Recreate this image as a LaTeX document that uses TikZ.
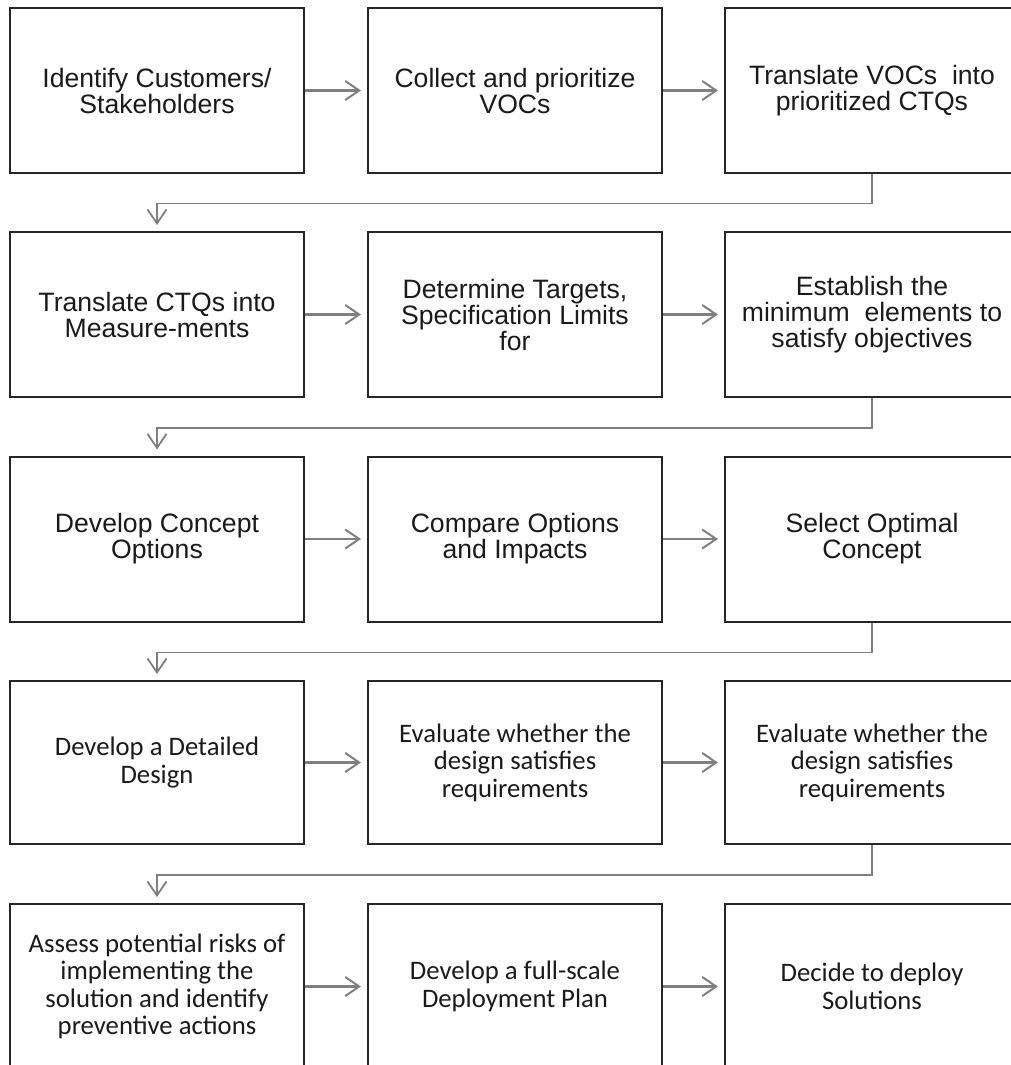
\documentclass[tikz,border=0pt]{standalone}
\usepackage{fontspec}
\newfontfamily\arialf{Liberation Sans}
\newfontfamily\calf{Carlito}
\usetikzlibrary{arrows.meta}
\definecolor{boxline}{HTML}{262626}
\definecolor{connc}{HTML}{7F7F7F}
\definecolor{txt}{HTML}{1A1A1A}
\tikzset{
  box/.style={draw=boxline, line width=2pt, rectangle, minimum width=294pt, minimum height=165pt, inner sep=0pt, align=center, text=txt},
  fa/.style={font={\arialf\fontsize{26.6}{26}\selectfont}},
  fc/.style={font={\calf\fontsize{26.7}{27.5}\selectfont}},
  conn/.style={draw=connc, line width=2.2pt, -{Straight Barb[length=14pt,width=19pt,line width=2pt]}, shorten >=6pt},
  elbow/.style={draw=connc, line width=1.6pt, -{Straight Barb[length=14pt,width=19pt,line width=1.8pt]}, shorten >=6pt}
}
\begin{document}
\begin{tikzpicture}[x=1pt,y=-1pt]
\useasboundingbox (0,0) rectangle (1011,1065);
\clip (0,0) rectangle (1011,1065);
% row 1
\node[box,fa] (a1) at (157,90.5) {Identify Customers/\\Stakeholders};
\node[box,fa] (a2) at (515,90.5) {Collect and prioritize\\VOCs};
\node[box,fa] (a3) at (872,90.5) {Translate VOCs\ \ into\\prioritized CTQs};
% row 2
\node[box,fa] (b1) at (157,314.5) {Translate CTQs into\\Measure-ments};
\node[box,fa] (b2) at (515,314.5) {Determine Targets,\\Specification Limits\\for};
\node[box,fa] (b3) at (872,314.5) {Establish the\\minimum\ \ elements to\\satisfy objectives};
% row 3
\node[box,fa] (c1) at (157,539) {Develop Concept\\Options};
\node[box,fa] (c2) at (515,539) {Compare Options\\and Impacts};
\node[box,fa] (c3) at (872,539) {Select Optimal\\Concept};
% row 4
\node[box,fc,minimum height=163pt] (d1) at (157,762.5) {Develop a Detailed\\Design};
\node[box,fc,minimum height=163pt] (d2) at (515,762.5) {Evaluate whether the\\design satisfies\\requirements};
\node[box,fc,minimum height=163pt] (d3) at (872,762.5) {Evaluate whether the\\design satisfies\\requirements};
% row 5
\node[box,fc] (e1) at (157,986.5) {Assess potential risks of\\implementing the\\solution and identify\\preventive\ actions};
\node[box,fc] (e2) at (515,986.5) {Develop a full-scale\\Deployment Plan};
\node[box,fc] (e3) at (872,986.5) {Decide to deploy\\Solutions};
% horizontal connectors
\foreach \r in {a,b,c,d,e}{
  \draw[conn] (\r1) -- (\r2);
  \draw[conn] (\r2) -- (\r3);
}
% elbow connectors
\draw[elbow] (a3.south) -- ++(0,29.5) -| (b1.north);
\draw[elbow] (b3.south) -- ++(0,30) -| (c1.north);
\draw[elbow] (c3.south) -- ++(0,30) -| (d1.north);
\draw[elbow] (d3.south) -- ++(0,30) -| (e1.north);
\end{tikzpicture}
\end{document}
